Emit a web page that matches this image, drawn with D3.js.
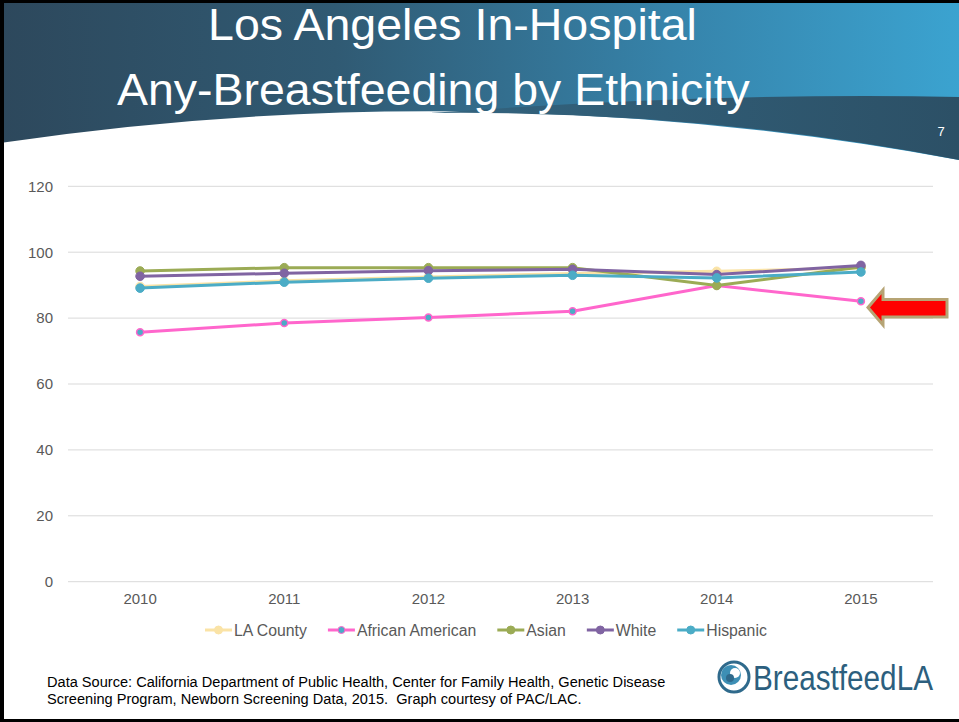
<!DOCTYPE html>
<html>
<head>
<meta charset="utf-8">
<script src="https://cdn.jsdelivr.net/npm/d3@7"></script>
<style>
  html, body { margin: 0; padding: 0; background: #fff; }
  svg { display: block; }
</style>
</head>
<body>
<svg id="slide" width="959" height="722"></svg>
<script>
// values
const years = ["2010", "2011", "2012", "2013", "2014", "2015"];
const laCounty = [89.6, 91.3, 92.5, 93.5, 94.2, 95.2];
const africanAmerican = [75.7, 78.5, 80.2, 82.1, 89.9, 85.1];
const asian = [94.3, 95.3, 95.3, 95.3, 89.9, 95.5];
const white = [92.7, 93.6, 94.4, 94.8, 93.2, 96.0];
const hispanic = [89.1, 90.9, 92.1, 93.0, 92.2, 94.0];
const yTicks = [0, 20, 40, 60, 80, 100, 120];
const seriesNames = ["LA County", "African American", "Asian", "White", "Hispanic"];

const seriesValues = [laCounty, africanAmerican, asian, white, hispanic];
const lineColors = ["#fae3a6", "#ff66cc", "#9bab55", "#8064a2", "#4bacc6"];
const dotColors = ["#fae3a6", "#4bacc6", "#9bab55", "#8064a2", "#4bacc6"];

const svg = d3.select("#slide");
const defs = svg.append("defs");

// squeeze a text horizontally to a given width (keeps its real bbox)
function fitWidth(sel, x0, width) {
    const w = sel.node().getComputedTextLength();
    sel.attr("x", 0).attr("transform", `translate(${x0},0) scale(${width / w},1)`);
}

// ---- header band ----
const grad = defs.append("linearGradient").attr("id", "hdr")
    .attr("x1", 0).attr("x2", 1).attr("y1", 0).attr("y2", 0);
grad.append("stop").attr("offset", 0).attr("stop-color", "#2d485c");
grad.append("stop").attr("offset", 0.35).attr("stop-color", "#305a73");
grad.append("stop").attr("offset", 0.7).attr("stop-color", "#3683aa");
grad.append("stop").attr("offset", 1).attr("stop-color", "#3ba3d0");

const ribbon = defs.append("linearGradient").attr("id", "rib")
    .attr("x1", 0).attr("x2", 1).attr("y1", 0).attr("y2", 0);
ribbon.append("stop").attr("offset", 0).attr("stop-color", "#33647f");
ribbon.append("stop").attr("offset", 1).attr("stop-color", "#2c5066");

svg.append("path")
    .attr("d", "M0,0 L959,0 L959,160 Q480,72 0,143 Z")
    .attr("fill", "url(#hdr)");
svg.append("path")
    .attr("d", "M430,113 Q720,92 959,97 L959,160 Q700,110 430,113 Z")
    .attr("fill", "url(#rib)");

const titleFont = "'Liberation Sans Narrow', 'Liberation Sans', Arial, sans-serif";
fitWidth(svg.append("text")
    .attr("y", 40)
    .attr("font-family", titleFont)
    .attr("font-size", 45)
    .attr("fill", "#fff")
    .text("Los Angeles In-Hospital"), 208, 489);
fitWidth(svg.append("text")
    .attr("y", 105)
    .attr("font-family", titleFont)
    .attr("font-size", 45)
    .attr("fill", "#fff")
    .text("Any-Breastfeeding by Ethnicity"), 117, 633);
svg.append("text")
    .attr("x", 941).attr("y", 136)
    .attr("text-anchor", "middle")
    .attr("font-family", titleFont)
    .attr("font-size", 13)
    .attr("fill", "#fff")
    .text("7");

// ---- chart ----
const x = d3.scaleBand().domain(years).range([68, 933]);
const cx = d => x(d) + x.bandwidth() / 2;
const y = d3.scaleLinear().domain([0, 120]).range([581.7, 186.3]);

const grid = svg.append("g");
grid.selectAll("line").data(yTicks).join("line")
    .attr("x1", 68).attr("x2", 933)
    .attr("y1", d => y(d)).attr("y2", d => y(d))
    .attr("stroke", "#d9d9d9").attr("stroke-width", 1);

const yAxis = svg.append("g").attr("transform", "translate(68,0)")
    .call(d3.axisLeft(y).tickValues(yTicks).tickSize(0).tickPadding(15));
yAxis.select(".domain").remove();
yAxis.selectAll("text")
    .attr("font-family", "'Liberation Sans', Arial, sans-serif")
    .attr("font-size", 15).attr("fill", "#595959");

const xAxis = svg.append("g").attr("transform", "translate(0,581.7)")
    .call(d3.axisBottom(x).tickSize(0).tickPadding(12));
xAxis.select(".domain").remove();
xAxis.selectAll("text")
    .attr("font-family", "'Liberation Sans', Arial, sans-serif")
    .attr("font-size", 15).attr("fill", "#595959");

const line = d3.line().x((d, i) => cx(years[i])).y(d => y(d));

seriesValues.forEach((vals, s) => {
    const g = svg.append("g");
    g.append("path")
        .attr("d", line(vals))
        .attr("fill", "none")
        .attr("stroke", lineColors[s])
        .attr("stroke-width", 3)
        .attr("stroke-linejoin", "round");
    g.selectAll("circle").data(vals).join("circle")
        .attr("cx", (d, i) => cx(years[i]))
        .attr("cy", d => y(d))
        .attr("r", s === 1 ? 3.5 : 4.3)
        .attr("fill", dotColors[s])
        .attr("stroke", lineColors[s])
        .attr("stroke-width", s === 1 ? 1.5 : 1);
});

// ---- legend ----
const legend = svg.append("g").attr("transform", "translate(0,630)");
let lx = 205;
seriesNames.forEach((name, s) => {
    const item = legend.append("g").attr("transform", `translate(${lx},0)`);
    item.append("line").attr("x1", 0).attr("x2", 27)
        .attr("stroke", lineColors[s]).attr("stroke-width", 3);
    item.append("circle").attr("cx", 13.5).attr("r", s === 1 ? 3.5 : 4)
        .attr("fill", dotColors[s]).attr("stroke", lineColors[s]).attr("stroke-width", 1);
    const t = item.append("text").attr("x", 29).attr("y", 5.5)
        .attr("font-family", "'Liberation Sans', Arial, sans-serif")
        .attr("font-size", 15.8).attr("fill", "#595959")
        .text(name);
    lx += 29 + t.node().getComputedTextLength() + 21;
});

// ---- arrow callout ----
svg.append("path")
    .attr("d", "M868,307.5 L883,290 L883,299.5 L947,299.5 L947,317 L883,317 L883,325 Z")
    .attr("fill", "#ff0000")
    .attr("stroke", "#b6a474")
    .attr("stroke-width", 3)
    .attr("stroke-linejoin", "miter");

// ---- footer ----
const footFont = "'Liberation Sans Narrow', 'Liberation Sans', Arial, sans-serif";
fitWidth(svg.append("text").attr("y", 687)
    .attr("font-family", footFont).attr("font-size", 14.5).attr("fill", "#000")
    .text("Data Source: California Department of Public Health, Center for Family Health, Genetic Disease"), 47, 619);
fitWidth(svg.append("text").attr("y", 704)
    .attr("font-family", footFont).attr("font-size", 14.5).attr("fill", "#000")
    .attr("xml:space", "preserve")
    .text("Screening Program, Newborn Screening Data, 2015.  Graph courtesy of PAC/LAC."), 47, 535);

// logo
const logo = svg.append("g").attr("transform", "translate(734,677)");
logo.append("circle").attr("r", 15).attr("fill", "none")
    .attr("stroke", "#2f6a8c").attr("stroke-width", 3);
logo.append("circle").attr("cx", -3).attr("cy", -2).attr("r", 10).attr("fill", "#3d8fb5");
logo.append("circle").attr("cx", 1).attr("cy", -4).attr("r", 5).attr("fill", "#fff");
logo.append("circle").attr("cx", -4).attr("cy", 1).attr("r", 4).attr("fill", "#2f6a8c");
fitWidth(svg.append("text").attr("y", 690)
    .attr("font-family", titleFont)
    .attr("font-size", 35).attr("fill", "#2c5f7e")
    .text("BreastfeedLA"), 753, 180);

// slide frame
svg.append("rect").attr("x", 0).attr("y", 0).attr("width", 959).attr("height", 3).attr("fill", "#000");
svg.append("rect").attr("x", 0).attr("y", 0).attr("width", 4).attr("height", 722).attr("fill", "#000");
svg.append("rect").attr("x", 0).attr("y", 719).attr("width", 959).attr("height", 3).attr("fill", "#000");
</script>
</body>
</html>
